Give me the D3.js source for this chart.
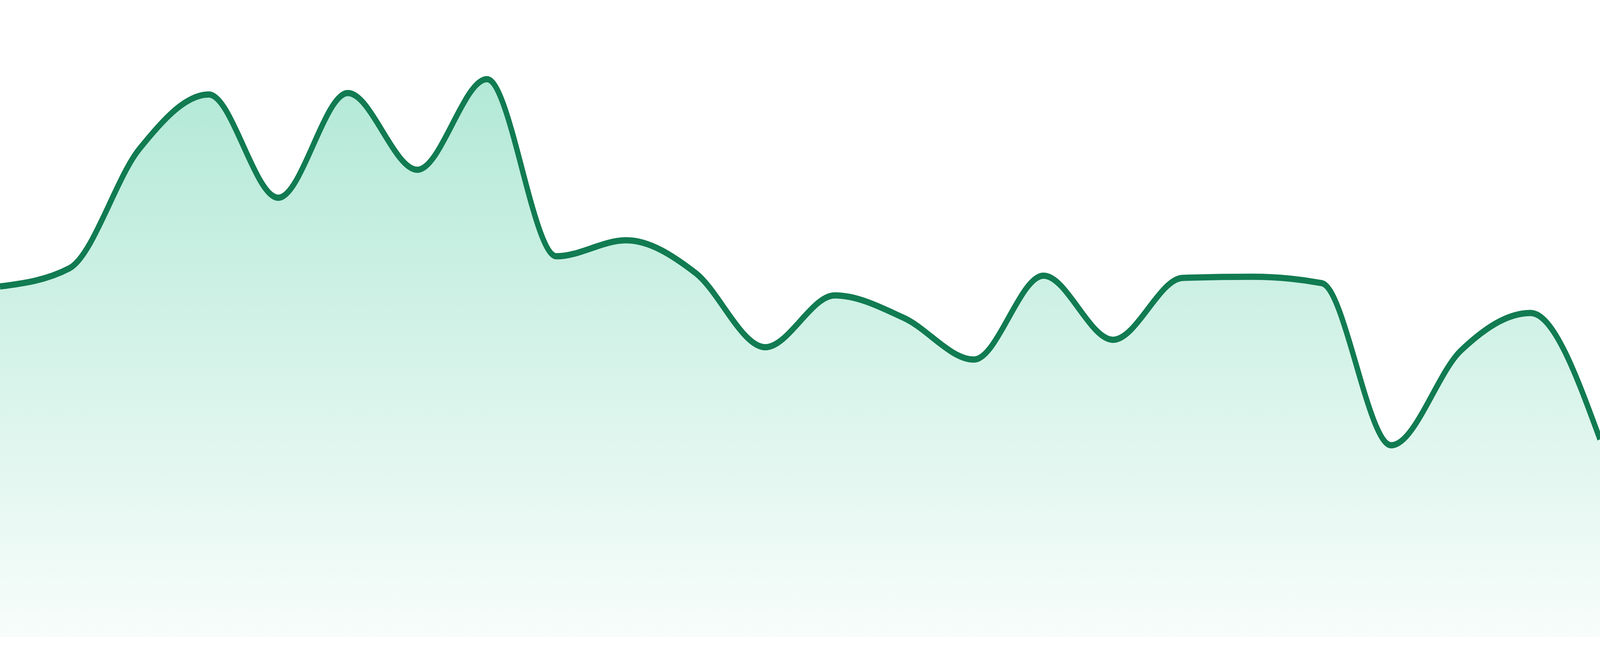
<!DOCTYPE html>
<html>
<head>
<meta charset="utf-8">
<script src="https://cdn.jsdelivr.net/npm/d3@7"></script>
<style>
  html, body { margin: 0; padding: 0; background: #ffffff; width: 100%; height: 100%; overflow: hidden; }
  svg { display: block; width: 100vw; height: 100vh; }
</style>
</head>
<body>
<svg id="spark" viewBox="0 0 4800 1680" preserveAspectRatio="none"></svg>
<script>
const container = document.querySelector("#spark");

// one reading per step, left to right
const steps = d3.range(0, 24);
const values = [
  94.1, 99.0, 130.9, 145.6, 117.9, 146.0, 125.4, 149.7,
  102.2, 106.5, 97.7, 77.8, 91.7, 85.6, 74.5, 97.0,
  79.8, 96.4, 96.7, 95.0, 51.5, 76.9, 87.0, 53.1
];

const points = steps.map((s, i) => ({ step: s, value: values[i] }));

const wSvg = 4800;
const hSvg = 1680;
const yBase = 1632;
const yTop = 200;

const xScale = d3.scaleLinear([0, steps.length - 1], [0, wSvg]);
const yScale = d3.scaleLinear([0, 150], [yBase, yTop]);

const lineMaker = d3.line()
                    .x(d => xScale(d.step))
                    .y(d => yScale(d.value))
                    .curve(d3.curveMonotoneX);

const areaMaker = d3.area()
                    .x(d => xScale(d.step))
                    .y0(yScale(0))
                    .y1(d => yScale(d.value))
                    .curve(d3.curveMonotoneX);

const svg = d3.select(container);

const grad = svg.append("defs")
    .append("linearGradient")
    .attr("id", "fillGrad")
    .attr("gradientUnits", "userSpaceOnUse")
    .attr("x1", 0).attr("x2", 0)
    .attr("y1", yScale(d3.max(values)))
    .attr("y2", yScale(0));

grad.append("stop")
    .attr("offset", "0%")
    .attr("stop-color", "#10b981")
    .attr("stop-opacity", 0.32);

grad.append("stop")
    .attr("offset", "100%")
    .attr("stop-color", "#10b981")
    .attr("stop-opacity", 0.03);

svg.append("path")
    .datum(points)
    .attr("class", "area")
    .attr("fill", "url(#fillGrad)")
    .attr("d", areaMaker);

svg.append("path")
    .datum(points)
    .attr("class", "line")
    .attr("fill", "none")
    .attr("stroke", "#117b51")
    .attr("stroke-width", 16)
    .attr("stroke-linejoin", "round")
    .attr("d", lineMaker);
</script>
</body>
</html>
